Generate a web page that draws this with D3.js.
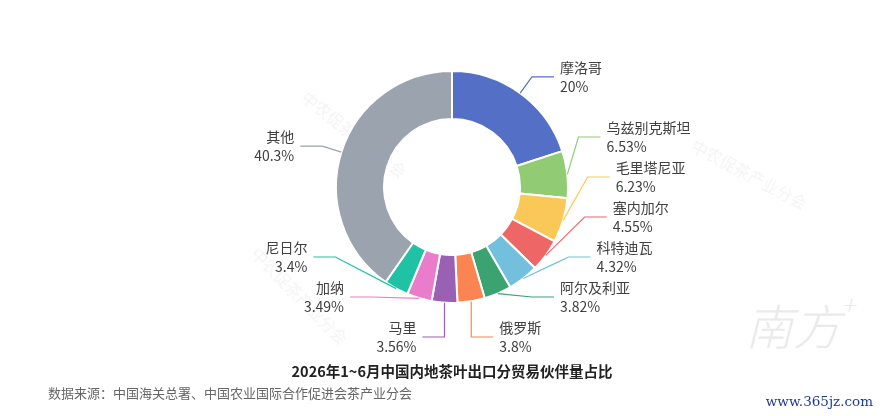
<!DOCTYPE html>
<html><head><meta charset="utf-8">
<script src="https://cdn.jsdelivr.net/npm/d3@7"></script>
<style>
html,body{margin:0;padding:0;background:#fff;}
svg{display:block;font-family:"Noto Sans CJK SC","Noto Sans",sans-serif;}
</style></head>
<body>
<svg id="c" width="880" height="416"></svg>
<script>
const categories = ["摩洛哥","乌兹别克斯坦","毛里塔尼亚","塞内加尔","科特迪瓦","阿尔及利亚","俄罗斯","马里","加纳","尼日尔","其他"];
const shares = [20, 6.53, 6.23, 4.55, 4.32, 3.82, 3.8, 3.56, 3.49, 3.4, 40.3];
const colors = ["#5470c6","#91cc75","#fac858","#ee6666","#73c0de","#3ba272","#fc8452","#9a60b4","#ea7ccc","#1fc2a4","#9ba3ae"];
const title = "2026年1~6月中国内地茶叶出口分贸易伙伴量占比";
const source = "数据来源：中国海关总署、中国农业国际合作促进会茶产业分会";

const svg = d3.select("#c");
const cx = 452, cy = 187, R = 116, r0 = 68;
const len1 = 20, len2 = 22, gap = 40, bottomY = cy + 150;

// watermarks
const wm = svg.append("g").attr("fill","#000").attr("opacity",0.05).attr("font-size",16);
[[300,100,38],[690,150,28],[250,255,45]].forEach(([x,y,a])=>{
  wm.append("text").attr("transform",`translate(${x},${y}) rotate(${a})`).text("中农促茶产业分会");
});
const logo = svg.append("text").attr("x",745).attr("y",345)
  .attr("font-size",48).attr("font-style","italic").attr("fill","#000").attr("opacity",0.08)
  .attr("font-weight",300);
logo.append("tspan").text("南方");
logo.append("tspan").attr("font-size",26).attr("dy",-30).text("+");

const data = categories.map((c,i)=>({name:c, value:shares[i], color:colors[i]}));
const pie = d3.pie().value(d=>d.value).sort(null).startAngle(0).endAngle(2*Math.PI);
const arcs = pie(data);
const arc = d3.arc().innerRadius(r0).outerRadius(R);

const g = svg.append("g").attr("transform",`translate(${cx},${cy})`);
g.selectAll("path.s").data(arcs).enter().append("path")
  .attr("d",arc).attr("fill",d=>d.data.color)
  .attr("stroke","#fff").attr("stroke-width",2).attr("stroke-linejoin","round");

// label layout
const r2 = R + len1;
const labels = arcs.map(a=>{
  const m = (a.startAngle + a.endAngle)/2;
  const sx = cx + R*Math.sin(m), sy = cy - R*Math.cos(m);
  const ny = cy - r2*Math.cos(m);
  const side = m < Math.PI ? 1 : -1;
  return {a, m, sx, sy, y:ny, side};
});
[1,-1].forEach(side=>{
  const L = labels.filter(l=>l.side===side).sort((p,q)=>p.y-q.y);
  for(let i=1;i<L.length;i++) L[i].y = Math.max(L[i].y, L[i-1].y+gap);
  if(L.length && L[L.length-1].y > bottomY){
    L[L.length-1].y = bottomY;
    for(let i=L.length-2;i>=0;i--) L[i].y = Math.min(L[i].y, L[i+1].y-gap);
  }
});
labels.forEach(l=>{
  const dy = l.y - cy;
  const dx = Math.sqrt(Math.max(0, r2*r2 - dy*dy));
  l.ex = l.side>0 ? Math.max(l.sx, cx+dx) : Math.min(l.sx, cx-dx);
  l.endx = l.ex + l.side*len2;
});

const lg = svg.append("g");
labels.forEach(l=>{
  lg.append("polyline")
    .attr("points",`${l.sx},${l.sy} ${l.ex},${l.y} ${l.endx},${l.y}`)
    .attr("fill","none").attr("stroke",l.a.data.color).attr("stroke-width",1.2);
  const tx = l.endx + l.side*6;
  const t = lg.append("text")
    .attr("x", tx)
    .attr("text-anchor", l.side>0 ? "start":"end")
    .attr("font-size",14).attr("fill","#404040");
  t.append("tspan").attr("x",tx).attr("y",l.y-9).attr("dy","0.35em").text(l.a.data.name);
  t.append("tspan").attr("x",tx).attr("y",l.y+10).attr("dy","0.35em").text(l.a.data.value+"%");
});

svg.append("text").attr("x",452).attr("y",372).attr("dy","0.35em").attr("text-anchor","middle")
  .attr("font-size",14.5).attr("font-weight","bold").attr("fill","#222").text(title);
svg.append("text").attr("x",48).attr("y",393).attr("dy","0.35em")
  .attr("font-size",13).attr("fill","#666").text(source);
svg.append("text").attr("x",873).attr("y",401).attr("dy","0.35em").attr("text-anchor","end")
  .attr("font-size",13.5).attr("fill","#1f3a8a").attr("font-family","'DejaVu Serif',serif").text("www.365jz.com");
</script>
</body></html>
